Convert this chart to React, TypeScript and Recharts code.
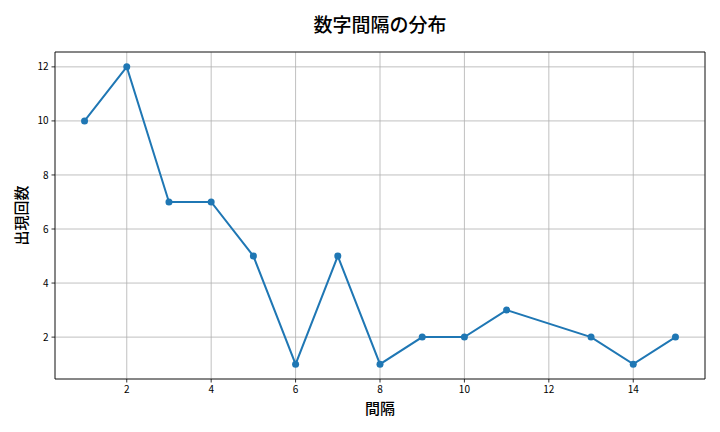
import {
  LineChart,
  Line,
  XAxis,
  YAxis,
  CartesianGrid,
  ReferenceArea,
} from "recharts";

const intervals = [1, 2, 3, 4, 5, 6, 7, 8, 9, 10, 11, 13, 14, 15];
const counts = [10, 12, 7, 7, 5, 1, 5, 1, 2, 2, 3, 2, 1, 2];
const xTicks = [2, 4, 6, 8, 10, 12, 14];
const yTicks = [2, 4, 6, 8, 10, 12];

const FONT = '"Noto Sans CJK JP", "Noto Sans", sans-serif';
const X_DOMAIN: [number, number] = [0.3, 15.7];
const Y_DOMAIN: [number, number] = [0.45, 12.55];

export default function App() {
  const data = intervals.map((gap, i) => ({ gap, count: counts[i] }));

  return (
    <div
      style={{
        position: "absolute",
        left: 0,
        top: 0,
        width: 720,
        height: 432,
        background: "#fff",
        fontFamily: FONT,
      }}
    >
      <div
        style={{
          position: "absolute",
          left: 55,
          width: 650,
          top: 10,
          textAlign: "center",
          fontSize: 19,
          fontWeight: 500,
          color: "#000",
        }}
      >
        数字間隔の分布
      </div>
      <LineChart
        width={720}
        height={432}
        data={data}
        margin={{ top: 52, right: 15, bottom: 0, left: 0 }}
      >
        <CartesianGrid stroke="#b0b0b0" strokeWidth={0.8} />
        <XAxis
          dataKey="gap"
          type="number"
          domain={X_DOMAIN}
          ticks={xTicks}
          allowDataOverflow
          height={53}
          axisLine={false}
          tickSize={3.5}
          tickMargin={3}
          tickLine={{ stroke: "#000", strokeWidth: 0.8 }}
          tick={{ fill: "#000", fontSize: 10, fontFamily: FONT }}
          label={{
            value: "間隔",
            position: "insideBottom",
            offset: 18,
            style: { fill: "#000", fontSize: 15, fontWeight: 500, fontFamily: FONT },
          }}
        />
        <YAxis
          type="number"
          domain={Y_DOMAIN}
          ticks={yTicks}
          allowDataOverflow
          width={55}
          axisLine={false}
          tickSize={3.5}
          tickMargin={3}
          tickLine={{ stroke: "#000", strokeWidth: 0.8 }}
          tick={{ fill: "#000", fontSize: 10, fontFamily: FONT }}
          label={{
            value: "出現回数",
            angle: -90,
            position: "insideLeft",
            offset: 22,
            style: {
              fill: "#000",
              fontSize: 15,
              fontWeight: 500,
              fontFamily: FONT,
              textAnchor: "middle",
            },
          }}
        />
        <ReferenceArea
          x1={X_DOMAIN[0]}
          x2={X_DOMAIN[1]}
          y1={Y_DOMAIN[0]}
          y2={Y_DOMAIN[1]}
          fill="none"
          stroke="#000"
          strokeWidth={0.8}
          ifOverflow="visible"
        />
        <Line
          type="linear"
          dataKey="count"
          stroke="#1f77b4"
          strokeWidth={2}
          dot={{ r: 3.5, fill: "#1f77b4", stroke: "#1f77b4", strokeWidth: 0 }}
          activeDot={false}
          isAnimationActive={false}
        />
      </LineChart>
    </div>
  );
}
